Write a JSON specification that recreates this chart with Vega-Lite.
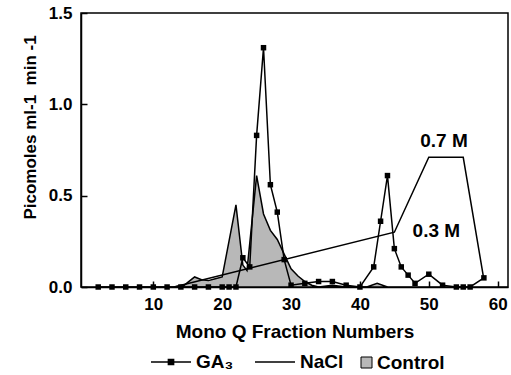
{
  "$schema": "https://vega.github.io/schema/vega-lite/v6.json",
  "width": 427,
  "height": 274,
  "autosize": {"type": "none"},
  "padding": {"left": 81, "top": 13, "right": 3, "bottom": 88},
  "background": "white",
  "config": {
    "font": "Liberation Sans",
    "view": {"stroke": "black", "strokeWidth": 1.5},
    "axis": {
      "grid": false,
      "domainColor": "black",
      "domainWidth": 1.5,
      "tickColor": "black",
      "tickWidth": 1.5,
      "tickSize": -6,
      "labelColor": "black",
      "labelFont": "Liberation Sans",
      "labelFontWeight": "bold",
      "labelFontSize": 17,
      "titleColor": "black",
      "titleFont": "Liberation Sans",
      "titleFontWeight": "bold",
      "titleFontSize": 19
    }
  },
  "datasets": {
    "series": [
      {"series": "GA3", "fraction": 2, "value": 0},
      {"series": "GA3", "fraction": 4, "value": 0},
      {"series": "GA3", "fraction": 6, "value": 0},
      {"series": "GA3", "fraction": 8, "value": 0},
      {"series": "GA3", "fraction": 10, "value": 0},
      {"series": "GA3", "fraction": 12, "value": 0},
      {"series": "GA3", "fraction": 14, "value": 0},
      {"series": "GA3", "fraction": 16, "value": 0},
      {"series": "GA3", "fraction": 18, "value": 0},
      {"series": "GA3", "fraction": 20, "value": 0},
      {"series": "GA3", "fraction": 21, "value": 0},
      {"series": "GA3", "fraction": 22, "value": 0},
      {"series": "GA3", "fraction": 23, "value": 0.16},
      {"series": "GA3", "fraction": 24, "value": 0.11},
      {"series": "GA3", "fraction": 25, "value": 0.83},
      {"series": "GA3", "fraction": 26, "value": 1.31},
      {"series": "GA3", "fraction": 27, "value": 0.56},
      {"series": "GA3", "fraction": 28, "value": 0.41},
      {"series": "GA3", "fraction": 29, "value": 0.15},
      {"series": "GA3", "fraction": 30, "value": 0.01},
      {"series": "GA3", "fraction": 32, "value": 0.02},
      {"series": "GA3", "fraction": 34, "value": 0.03},
      {"series": "GA3", "fraction": 36, "value": 0.03},
      {"series": "GA3", "fraction": 38, "value": 0.01},
      {"series": "GA3", "fraction": 40, "value": 0},
      {"series": "GA3", "fraction": 42, "value": 0.11},
      {"series": "GA3", "fraction": 43, "value": 0.36},
      {"series": "GA3", "fraction": 44, "value": 0.61},
      {"series": "GA3", "fraction": 45, "value": 0.21},
      {"series": "GA3", "fraction": 46, "value": 0.11},
      {"series": "GA3", "fraction": 47, "value": 0.065},
      {"series": "GA3", "fraction": 48, "value": 0.02},
      {"series": "GA3", "fraction": 50, "value": 0.07},
      {"series": "GA3", "fraction": 52, "value": 0.01},
      {"series": "GA3", "fraction": 54, "value": 0},
      {"series": "GA3", "fraction": 55, "value": 0},
      {"series": "GA3", "fraction": 56, "value": 0},
      {"series": "GA3", "fraction": 58, "value": 0.05},
      {"series": "NaCl", "fraction": 13, "value": 0},
      {"series": "NaCl", "fraction": 45, "value": 0.3},
      {"series": "NaCl", "fraction": 50, "value": 0.71},
      {"series": "NaCl", "fraction": 55, "value": 0.71},
      {"series": "NaCl", "fraction": 58, "value": 0.04},
      {"series": "Control", "fraction": 13, "value": 0},
      {"series": "Control", "fraction": 14.5, "value": 0.01},
      {"series": "Control", "fraction": 16, "value": 0.055},
      {"series": "Control", "fraction": 17, "value": 0.04},
      {"series": "Control", "fraction": 18, "value": 0.035},
      {"series": "Control", "fraction": 19, "value": 0.045},
      {"series": "Control", "fraction": 20, "value": 0.055},
      {"series": "Control", "fraction": 22, "value": 0.45},
      {"series": "Control", "fraction": 23, "value": 0.12},
      {"series": "Control", "fraction": 23.6, "value": 0.09},
      {"series": "Control", "fraction": 25, "value": 0.61},
      {"series": "Control", "fraction": 26, "value": 0.4},
      {"series": "Control", "fraction": 27, "value": 0.31},
      {"series": "Control", "fraction": 28, "value": 0.26},
      {"series": "Control", "fraction": 29, "value": 0.18},
      {"series": "Control", "fraction": 30, "value": 0.1},
      {"series": "Control", "fraction": 31, "value": 0.06},
      {"series": "Control", "fraction": 32, "value": 0.03},
      {"series": "Control", "fraction": 33, "value": 0.01},
      {"series": "Control", "fraction": 34, "value": 0},
      {"series": "Control", "fraction": 36, "value": 0.01},
      {"series": "Control", "fraction": 38, "value": 0},
      {"series": "Control", "fraction": 41, "value": 0},
      {"series": "Control", "fraction": 42.5, "value": 0.02},
      {"series": "Control", "fraction": 44, "value": 0}
    ],
    "labels": [
      {"fraction": 52.2, "value": 0.766, "label": "0.7 M"},
      {"fraction": 51.1, "value": 0.272, "label": "0.3 M"}
    ]
  },
  "encoding": {
    "x": {
      "field": "fraction",
      "type": "quantitative",
      "scale": {"domain": [-0.5, 61.5], "nice": false, "zero": false},
      "axis": {
        "title": "Mono Q Fraction Numbers",
        "values": [10, 20, 30, 40, 50, 60],
        "labelPadding": 15,
        "titlePadding": 10
      }
    },
    "y": {
      "field": "value",
      "type": "quantitative",
      "scale": {"domain": [0, 1.5], "nice": false},
      "axis": {
        "title": "Picomoles ml-1\u00a0 min -1",
        "titleFontSize": 17,
        "values": [0, 0.5, 1, 1.5],
        "format": ".1f",
        "labelPadding": 15,
        "titlePadding": 9,
        "titleY": 114
      }
    }
  },
  "layer": [
    {
      "data": {"name": "series"},
      "transform": [{"filter": "datum.series === 'Control'"}],
      "mark": {"type": "area", "stroke": "black", "strokeWidth": 1.5, "interpolate": "linear"},
      "encoding": {
        "fill": {
          "field": "series",
          "type": "nominal",
          "scale": {"domain": ["Control"], "range": ["#b8b8b8"]},
          "legend": {
            "orient": "none",
            "legendX": 276,
            "legendY": 340,
            "title": null,
            "padding": 0,
            "symbolType": "square",
            "symbolSize": 121,
            "symbolStrokeColor": "black",
            "symbolStrokeWidth": 1,
            "symbolOpacity": 1,
            "labelFont": "Liberation Sans",
            "labelFontSize": 19,
            "labelFontWeight": "bold",
            "labelColor": "black",
            "labelOffset": 1
          }
        }
      }
    },
    {
      "data": {"name": "series"},
      "transform": [{"filter": "datum.series === 'NaCl' || datum.series === 'GA3'"}],
      "mark": {"type": "line", "strokeWidth": 1.5, "interpolate": "linear"},
      "encoding": {
        "color": {
          "field": "series",
          "type": "nominal",
          "scale": {"domain": ["GA3", "NaCl"], "range": ["black", "black"]},
          "legend": {
            "orient": "none",
            "legendX": 69,
            "legendY": 328,
            "title": null,
            "padding": 0,
            "direction": "horizontal",
            "symbolSize": 1600,
            "symbolStrokeWidth": 1.5,
            "labelFont": "Liberation Sans",
            "labelFontSize": 19,
            "labelFontWeight": "bold",
            "labelColor": "black",
            "labelOffset": 4,
            "columnPadding": 18,
            "labelExpr": "datum.value === 'GA3' ? 'GA₃' : datum.label",
            "encode": {
              "symbols": {
                "update": {
                  "shape": {"signal": "datum.value === 'GA3' ? 'M-1,0L1,0M-0.13,-0.13L0.13,-0.13L0.13,0.13L-0.13,0.13Z' : 'M-1,0L1,0'"},
                  "fill": {"value": "black"},
                  "stroke": {"value": "black"},
                  "strokeWidth": {"value": 1.5}
                }
              }
            }
          }
        }
      }
    },
    {
      "data": {"name": "series"},
      "transform": [{"filter": "datum.series === 'GA3'"}],
      "mark": {"type": "point", "shape": "square", "filled": true, "color": "black", "size": 30, "opacity": 1}
    },
    {
      "data": {"name": "labels"},
      "mark": {"type": "text", "align": "center", "baseline": "alphabetic", "font": "Liberation Sans", "fontSize": 19, "fontWeight": "bold", "color": "black"},
      "encoding": {"text": {"field": "label", "type": "nominal"}}
    }
  ]
}
